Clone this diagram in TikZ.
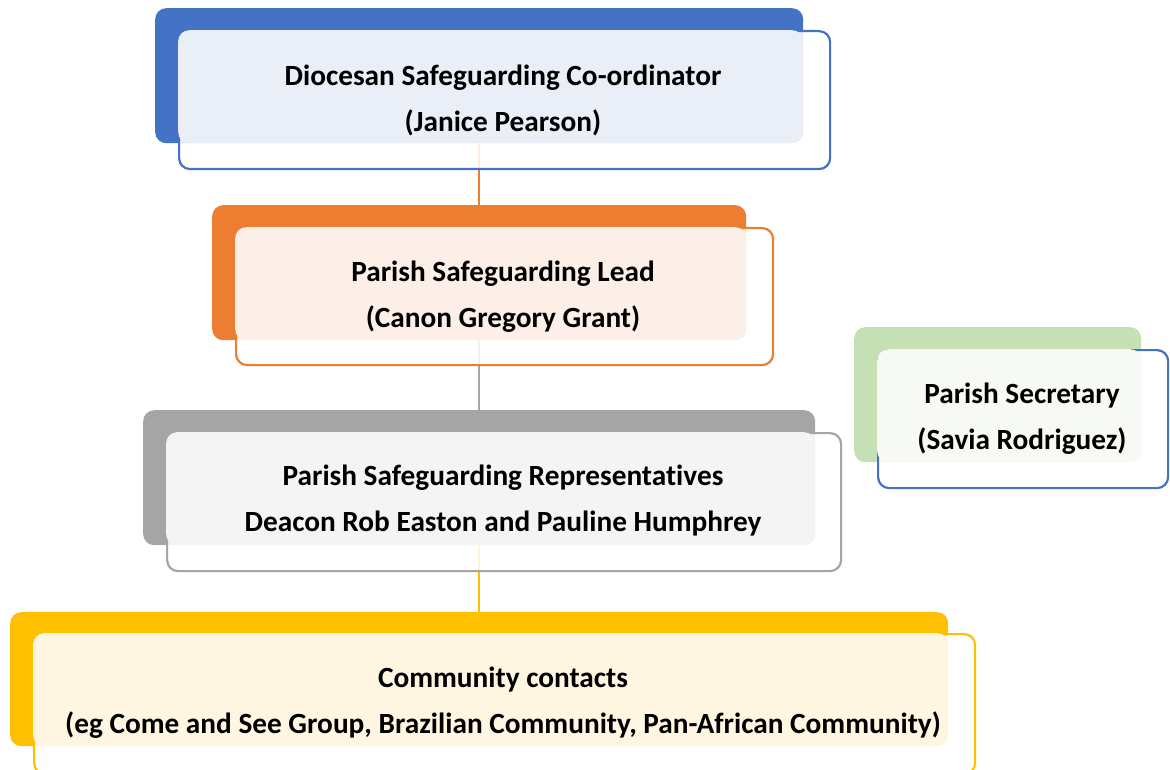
\documentclass[tikz,border=0pt]{standalone}
\usepackage{fontspec}
\setmainfont{Carlito}[Ligatures=NoCommon]
\definecolor{cblue}{HTML}{4472C4}
\definecolor{tblue}{HTML}{E9EEF7}
\definecolor{corange}{HTML}{ED7D31}
\definecolor{torange}{HTML}{FCEFE7}
\definecolor{cgray}{HTML}{A5A5A5}
\definecolor{tgray}{HTML}{F4F4F4}
\definecolor{cyellow}{HTML}{FFC000}
\definecolor{tyellow}{HTML}{FFF6E2}
\definecolor{cgreen}{HTML}{C5E0B4}
\definecolor{tgreen}{HTML}{F7F9F5}
\tikzset{
  box/.style={rectangle, rounded corners=11pt, inner sep=0pt, anchor=north west},
  backbox/.style={box, fill=#1},
  frontbox/.style={box, draw=#1, line width=2.2pt, fill=white, fill opacity=0.85},
  tintbox/.style={box, fill=#1},
  label/.style={align=center, font=\fontsize{29.3}{46}\selectfont\bfseries, inner sep=0pt},
  link/.style={line width=2pt, draw=#1}
}
\begin{document}
\begin{tikzpicture}[x=1pt,y=-1pt]
\useasboundingbox (0,0) rectangle (1170,770);
% back boxes
\node[backbox=cblue, minimum width=648pt, minimum height=135pt] (b1) at (155,8) {};
\node[backbox=corange, minimum width=534pt, minimum height=135pt] (b2) at (212,205) {};
\node[backbox=cgray, minimum width=672pt, minimum height=135pt] (b3) at (143,410) {};
\node[backbox=cyellow, minimum width=938pt, minimum height=134pt] (b4) at (10,612) {};
\node[backbox=cgreen, minimum width=287pt, minimum height=135pt] (b5) at (854,327) {};
% connectors
\draw[link=corange] (b1.south) -- (b2.north);
\draw[link=cgray] (b2.south) -- (b3.north);
\draw[link=cyellow] (b3.south) -- (b4.north);
% front boxes
\node[frontbox=cblue, minimum width=651pt, minimum height=138pt] (f1) at (178,30) {};
\node[frontbox=corange, minimum width=537pt, minimum height=137pt] (f2) at (235,227) {};
\node[frontbox=cgray, minimum width=674pt, minimum height=138pt] (f3) at (166,432) {};
\node[frontbox=cyellow, minimum width=941pt, minimum height=140pt] (f4) at (33,633) {};
\node[frontbox=cblue, minimum width=290pt, minimum height=138pt] (f5) at (877,349) {};
% tints (overlap of back and front)
\node[tintbox=tblue, minimum width=625pt, minimum height=113pt] (t1) at (178,30) {};
\node[tintbox=torange, minimum width=511pt, minimum height=113pt] (t2) at (235,227) {};
\node[tintbox=tgray, minimum width=649pt, minimum height=113pt] (t3) at (166,432) {};
\node[tintbox=tyellow, minimum width=915pt, minimum height=113pt] (t4) at (33,633) {};
\node[tintbox=tgreen, minimum width=264pt, minimum height=113pt] (t5) at (877,349) {};
% labels
\node[label] (l1) at (503,100) {Diocesan Safeguarding Co-ordinator\\(Janice Pearson)};
\node[label] (l2) at (503,297) {Parish Safeguarding Lead\\(Canon Gregory Grant)};
\node[label] (l3) at (503,501) {Parish Safeguarding Representatives\\Deacon Rob Easton and Pauline Humphrey};
\node[label] (l4) at (503,703) {Community contacts\\(eg Come and See Group, Brazilian Community, Pan-African Community)};
\node[label] (l5) at (1022,419) {Parish Secretary\\(Savia Rodriguez)};
\end{tikzpicture}
\end{document}
